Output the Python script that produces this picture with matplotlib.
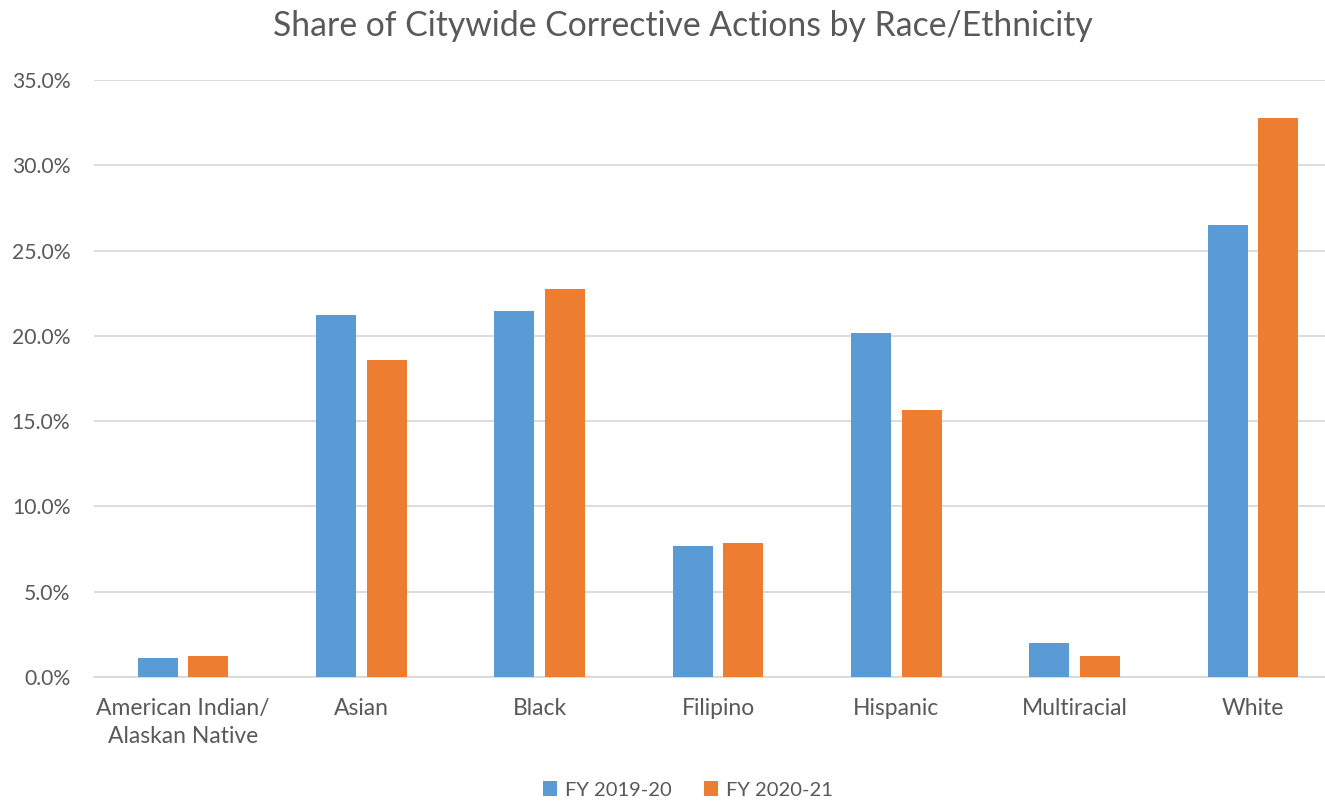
import numpy as np
import matplotlib.pyplot as plt
from matplotlib.ticker import PercentFormatter

# Share of corrective actions by group, two fiscal years (percent)
groups = ['American Indian/\nAlaskan Native', 'Asian', 'Black', 'Filipino',
          'Hispanic', 'Multiracial', 'White']
fy_2019_20 = [1.10, 21.23, 21.47, 7.68, 20.18, 1.99, 26.49]
fy_2020_21 = [1.23, 18.61, 22.76, 7.86, 15.66, 1.23, 32.79]
series_names = ['FY 2019-20', 'FY 2020-21']

plt.rcParams['font.family'] = ['Lato', 'DejaVu Sans']
text_color = '#595959'

fig = plt.figure(figsize=(13.25, 8.01), dpi=100)
ax = fig.add_axes([94 / 1325, 124 / 801, 1248 / 1325, 597 / 801])

x = np.arange(len(groups))
w = 0.224
ax.bar(x - 0.142, fy_2019_20, w, color='#5B9BD5', label=series_names[0], zorder=3)
ax.bar(x + 0.142, fy_2020_21, w, color='#ED7D31', label=series_names[1], zorder=3)

ax.set_xlim(-0.5, len(groups) - 0.5)
ax.set_ylim(0, 35)
ax.set_yticks(np.arange(0, 36, 5))
ax.yaxis.set_major_formatter(PercentFormatter(decimals=1))
ax.grid(axis='y', color='#D9D9D9', linewidth=1.3, zorder=0)
ax.set_xticks(x)
ax.set_xticklabels(groups, fontsize=16.5, color=text_color, linespacing=1.45)
ax.tick_params(axis='y', labelsize=15.2, labelcolor=text_color, length=0, pad=17)
ax.tick_params(axis='x', length=0, pad=15)
for side in ['top', 'right', 'left']:
    ax.spines[side].set_visible(False)
ax.spines['bottom'].set_color('#D9D9D9')
ax.spines['bottom'].set_linewidth(1.3)

fig.text(683 / 1325, 1 - 26 / 801, 'Share of Citywide Corrective Actions by Race/Ethnicity',
         ha='center', va='center', fontsize=24.3, color=text_color)

fig.legend(loc='center', bbox_to_anchor=(688 / 1325, 1 - 790 / 801), ncol=2,
           frameon=False, fontsize=14.5, labelcolor=text_color,
           handlelength=0.7, handleheight=0.7, handletextpad=0.4, columnspacing=1.6)

fig.savefig('out.png', dpi=100)
